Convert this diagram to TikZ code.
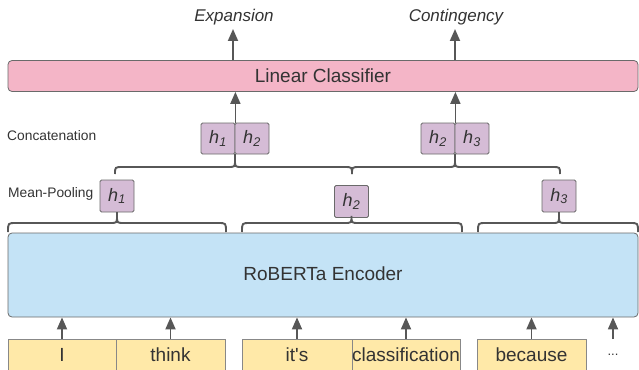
\documentclass[tikz,border=0pt]{standalone}
\usepackage{fontspec}
\setmainfont{Liberation Sans}[Ligatures=TeXOff]
\usetikzlibrary{arrows.meta}

\definecolor{txt}{HTML}{333333}
\definecolor{wire}{HTML}{575757}
\definecolor{edge}{HTML}{6A6A6A}
\definecolor{clsfill}{HTML}{F4B5C7}
\definecolor{encfill}{HTML}{C4E3F6}
\definecolor{hfill}{HTML}{D5BCD6}
\definecolor{tokfill}{HTML}{FFE9A8}

% a horizontal curly brace: left end, right end, tip x, bar y, end y, tip y
\newcommand\hbrace[6]{%
  \draw[bracepath] (#1,#5) .. controls (#1,#4) .. (#1+8,#4) -- (#3-7,#4)
    .. controls (#3,#4) .. (#3,#4-7) .. controls (#3,#4) .. (#3+7,#4)
    -- (#2-8,#4) .. controls (#2,#4) .. (#2,#5);
  \draw[bracepath] (#3,#4-7) -- (#3,#6);}

\newcommand\hv[1]{\textit{h}\textsubscript{\textit{#1}}}
\newcommand\toktext[1]{\raisebox{1.5pt}{#1}}

\begin{document}
\begin{tikzpicture}[x=1pt,y=-1pt,
  every node/.style={text=txt},
  wide/.style={draw=edge, line width=0.8pt, rounded corners=4pt, inner sep=0pt},
  hbox/.style={draw=edge, line width=0.8pt, fill=hfill, rounded corners=1.5pt,
    minimum width=34pt, minimum height=31pt, inner sep=0pt, font=\fontsize{18}{20}\selectfont},
  tok/.style={draw=edge!80, line width=0.7pt, fill=tokfill, minimum height=33pt,
    inner sep=0pt, font=\fontsize{19}{21}\selectfont},
  side/.style={anchor=west, inner sep=0pt, font=\fontsize{13.8}{15}\selectfont},
  outlbl/.style={inner sep=0pt, font=\itshape\fontsize{17}{19}\selectfont},
  link/.style={draw=wire, line width=1.8pt, -{Triangle[length=12pt,width=10pt]}},
  bracepath/.style={draw=wire, line width=1.9pt}]
\useasboundingbox (0,0) rectangle (639,369);
\clip (0,0) rectangle (639,369);

% classifier and encoder
\node[wide, fill=clsfill, minimum width=630pt, minimum height=31pt,
  font=\fontsize{19}{21}\selectfont] (cls) at (323,76) {Linear Classifier};
\node[wide, fill=encfill, minimum width=630pt, minimum height=84pt,
  font=\fontsize{19}{21}\selectfont] (enc) at (323,275) {\raisebox{2pt}{RoBERTa Encoder}};

% outputs
\node[outlbl] (exp) at (234,17) {Expansion};
\node[outlbl] (con) at (456,17) {Contingency};
\coordinate (expin) at (233,29);
\coordinate (conin) at (455,29);
\draw[link] (cls.north -| expin) -- (expin);
\draw[link] (cls.north -| conin) -- (conin);

% side labels
\node[side] (lcat) at (7,136) {Concatenation};
\node[side] (lpool) at (8,194) {Mean-Pooling};

% concatenated pairs
\node[hbox] (ca1) at (218,138.5) {\hv{1}};
\node[hbox] (ca2) at (252,138.5) {\hv{2}};
\node[hbox] (cb2) at (438,138.5) {\hv{2}};
\node[hbox] (cb3) at (472,138.5) {\hv{3}};
\draw[link] (ca1.north east) -- (ca1.north east |- cls.south);
\draw[link] (cb2.north east) -- (cb2.north east |- cls.south);

% pooled vectors
\node[hbox, minimum height=32pt] (p1) at (117,196) {\hv{1}};
\node[hbox, minimum height=32pt] (p2) at (351.5,201.5) {\hv{2}};
\node[hbox, minimum height=32pt] (p3) at (559,196) {\hv{3}};

% braces
\hbrace{115}{352}{235}{167}{174}{154}
\hbrace{352}{560}{455}{167}{174}{154}
\hbrace{8}{226}{117}{223}{232}{212}
\hbrace{242}{462}{351.5}{223}{232}{217}
\hbrace{478}{638}{559}{223}{232}{212}

% tokens
\node[tok, minimum width=108pt] (t1) at (62,355.5) {\toktext{I}};
\node[tok, minimum width=109pt] (t2) at (170.5,355.5) {\toktext{think}};
\node[tok, minimum width=110pt] (t3) at (297,355.5) {\toktext{it's}};
\node[tok, minimum width=108pt] (t4) at (406,355.5) {\toktext{classification}};
\node[tok, minimum width=109pt] (t5) at (531.5,355.5) {\toktext{because}};
\node[inner sep=0pt, font=\fontsize{13}{15}\selectfont] (t6) at (613,355) {...};

\draw[link] (t1.north) -- (t1.north |- enc.south);
\draw[link] (t2.north) -- (t2.north |- enc.south);
\draw[link] (t3.north) -- (t3.north |- enc.south);
\draw[link] (t4.north) -- (t4.north |- enc.south);
\draw[link] (t5.north) -- (t5.north |- enc.south);
\coordinate (t6top) at (613,339);
\draw[link] (t6top) -- (t6top |- enc.south);
\end{tikzpicture}
\end{document}
